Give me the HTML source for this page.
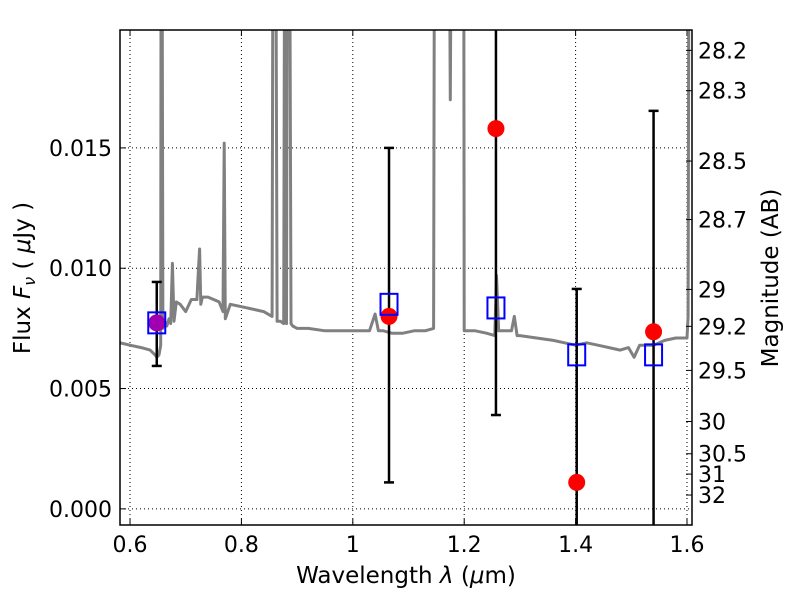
<!DOCTYPE html>
<html><head><meta charset="utf-8"><style>
html,body{margin:0;background:#fff;width:800px;height:600px;overflow:hidden;position:relative}
svg text{font-family:"DejaVu Sans","Liberation Sans",sans-serif;font-size:22px;fill:#000}
</style></head><body>
<svg id="c" width="800" height="600" style="position:absolute;left:0;top:0" xmlns="http://www.w3.org/2000/svg"></svg>
<script>
const specLam=[0.582,0.60,0.62,0.636,0.645,0.648,0.652,0.655,0.656,0.657,0.659,0.662,0.666,0.67,0.673,0.676,0.679,0.683,0.69,0.70,0.71,0.72,0.723,0.725,0.727,0.73,0.74,0.75,0.76,0.767,0.769,0.771,0.78,0.80,0.82,0.84,0.855,0.857,0.861,0.864,0.87,0.876,0.878,0.881,0.883,0.886,0.889,0.892,0.90,0.92,0.95,0.98,1.0,1.03,1.04,1.046,1.055,1.07,1.09,1.11,1.13,1.145,1.147,1.149];
const specFlux=[0.0069,0.0068,0.0067,0.0066,0.0064,0.0063,0.0064,0.0068,0.03,0.03,0.0075,0.0078,0.0076,0.0079,0.0077,0.0102,0.0078,0.0086,0.0085,0.0082,0.0087,0.0087,0.0100,0.0108,0.0085,0.0088,0.0088,0.0087,0.0086,0.0082,0.0152,0.0079,0.0085,0.0084,0.0083,0.0082,0.0080,0.03,0.03,0.0078,0.0078,0.0077,0.03,0.0077,0.03,0.03,0.0077,0.0076,0.0075,0.0075,0.0074,0.0074,0.0074,0.0074,0.0081,0.0074,0.0074,0.0073,0.0073,0.0074,0.0074,0.0075,0.03,0.03];
const spec2Lam=[1.172,1.175,1.178];
const spec2Flux=[0.03,0.0170,0.03];
const spec3Lam=[1.199,1.20,1.22,1.24,1.255,1.258,1.262,1.27,1.285,1.29,1.295,1.30,1.33,1.36,1.38,1.40,1.42,1.44,1.46,1.48,1.495,1.505,1.515,1.525,1.54,1.56,1.58,1.60,1.602,1.604];
const spec3Flux=[0.03,0.0074,0.0074,0.0073,0.0072,0.0097,0.0074,0.0074,0.0074,0.0080,0.0072,0.0072,0.0071,0.0070,0.0069,0.0068,0.0069,0.0068,0.0067,0.0066,0.0067,0.0063,0.0068,0.0068,0.0068,0.0070,0.0071,0.0071,0.0080,0.03];
const obsLam=[0.648,1.065,1.257,1.402,1.540];
const obsFlux=[0.00773,0.0080,0.0158,0.0011,0.00736];
const errLo=[0.00594,0.0011,0.0039,-0.01,-0.01];
const errHi=[0.00943,0.0150,0.03,0.00914,0.01654];
const modFlux=[0.00773,0.0085,0.00835,0.0064,0.0064];
const xTicks=[0.6,0.8,1.0,1.2,1.4,1.6];
const xTickLabels=["0.6","0.8","1","1.2","1.4","1.6"];
const yTicks=[0,0.005,0.010,0.015];
const yTickLabels=["0.000","0.005","0.010","0.015"];
const magTicks=[28.2,28.3,28.5,28.7,29,29.2,29.5,30,30.5,31,32];

const L=120,R=692,T=30,B=525;
const xmin=0.582,xmax=1.609,ymin=-0.00067,ymax=0.0199;
const X=v=>L+(v-xmin)/(xmax-xmin)*(R-L);
const Y=v=>B-(v-ymin)/(ymax-ymin)*(B-T);
const NS="http://www.w3.org/2000/svg";
const svg=document.getElementById('c');
function mk(tag,attrs,parent){const e=document.createElementNS(NS,tag);for(const k in attrs)e.setAttribute(k,attrs[k]);(parent||svg).appendChild(e);return e;}
const defs=mk('defs',{});const cp=mk('clipPath',{id:'clip'},defs);mk('rect',{x:L,y:T,width:R-L,height:B-T},cp);
const grid=mk('g',{stroke:'#000','stroke-width':1,'stroke-dasharray':'1,3'});


xTicks.forEach((t,i)=>{
  mk('line',{x1:X(t),x2:X(t),y1:T,y2:B},grid);
  mk('line',{x1:X(t),x2:X(t),y1:B,y2:B-6,stroke:'#000'});
  mk('line',{x1:X(t),x2:X(t),y1:T,y2:T+6,stroke:'#000'});
  const tx=mk('text',{x:X(t),y:B+27,'text-anchor':'middle'});tx.textContent=xTickLabels[i];
  
  
});
yTicks.forEach((t,i)=>{
  mk('line',{x1:L,x2:R,y1:Y(t),y2:Y(t)},grid);
  mk('line',{x1:L,x2:L+6,y1:Y(t),y2:Y(t),stroke:'#000'});
  const tx=mk('text',{x:L-8,y:Y(t)+8,'text-anchor':'end'});tx.textContent=yTickLabels[i];
  
  
});
const plot=mk('g',{'clip-path':'url(#clip)'});
function spec(lams,fl){
  const p=mk('path',{d:lams.map((l,i)=>(i?'L':'M')+X(l).toFixed(1)+','+Y(fl[i]).toFixed(1)).join(''),fill:'none',stroke:'#808080','stroke-width':3,'stroke-linejoin':'round'},plot);
  
  
}
spec(specLam,specFlux);spec(spec2Lam,spec2Flux);spec(spec3Lam,spec3Flux);
obsLam.forEach((l,i)=>{
  const x=X(l);
  mk('line',{x1:x,x2:x,y1:Y(errLo[i]),y2:Y(errHi[i]),stroke:'#000','stroke-width':2.5},plot);
  [errLo[i],errHi[i]].forEach(v=>mk('line',{x1:x-5,x2:x+5,y1:Y(v),y2:Y(v),stroke:'#000','stroke-width':2.5},plot));
  const c=mk('circle',{cx:x,cy:Y(obsFlux[i]),r:8.5,fill:i==0?'#a000b0':'#ff0000'},plot);
  
  
  const s=mk('rect',{x:x-8.5,y:Y(modFlux[i])-10.5,width:17,height:21,fill:'none',stroke:'#0000ff','stroke-width':2},plot);
  
  
});
magTicks.forEach(m=>{
  const f=Math.pow(10,(23.9-m)/2.5);const y=Y(f);
  mk('line',{x1:R,x2:R-6,y1:y,y2:y,stroke:'#000'});
  const tx=mk('text',{x:R+6,y:y+8});tx.textContent=String(m);
  
  
});
const fr=mk('rect',{x:L,y:T,width:R-L,height:B-T,fill:'none',stroke:'#000','stroke-width':1.5});


</script>
<svg width="800" height="600" style="position:absolute;left:0;top:0">
<text x="406" y="583" text-anchor="middle" style="font-family:'DejaVu Sans',sans-serif;font-size:23px">Wavelength  <tspan font-style="italic">λ</tspan> (<tspan font-style="italic">μ</tspan>m)</text>
<text transform="translate(30,278) rotate(-90)" text-anchor="middle" style="font-family:'DejaVu Sans',sans-serif;font-size:23px">Flux  <tspan font-style="italic">F</tspan><tspan font-style="italic" font-size="16" dy="5">ν</tspan><tspan dy="-5">  ( </tspan><tspan font-style="italic">μ</tspan>Jy )</text>
<text transform="translate(778,278) rotate(-90)" text-anchor="middle" style="font-family:'DejaVu Sans',sans-serif;font-size:23px">Magnitude (AB)</text>
</svg>
</body></html>
